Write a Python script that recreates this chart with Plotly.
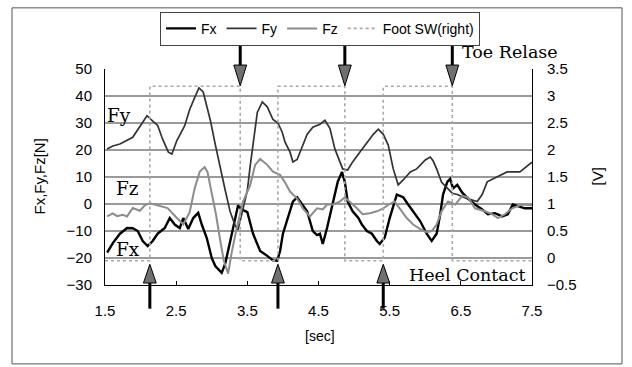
import plotly.graph_objects as go

# ---- data ----
fx_t = [1.53, 1.61, 1.71, 1.81, 1.89, 1.96, 2.03, 2.10, 2.17, 2.24, 2.34, 2.41, 2.48, 2.55, 2.60, 2.67,
        2.74, 2.81, 2.86, 2.93, 3.00, 3.05, 3.14, 3.19, 3.26, 3.33, 3.37, 3.42, 3.50, 3.58, 3.68, 3.78,
        3.86, 3.92, 3.96, 4.00, 4.07, 4.14, 4.20, 4.27, 4.34, 4.42, 4.48, 4.52, 4.56, 4.62, 4.70, 4.77,
        4.83, 4.87, 4.91, 4.98, 5.06, 5.11, 5.18, 5.25, 5.32, 5.36, 5.43, 5.50, 5.60, 5.69, 5.76, 5.83,
        5.93, 6.02, 6.09, 6.16, 6.21, 6.25, 6.31, 6.35, 6.39, 6.45, 6.52, 6.60, 6.70, 6.80, 6.88, 6.98,
        7.08, 7.16, 7.23, 7.30, 7.40, 7.50]
fx = [-18, -14.5, -11, -8.9, -9, -10, -13.7, -15.6, -13.7, -11, -8.9, -5.2, -7.6, -8.9, -5.2, -9.3,
      -5.2, -3.3, -7.6, -12.6, -20, -23, -25.5, -22, -13.7, -5.2, -0.5, -2, -3, -11, -17.4, -19.2,
      -20.9, -21, -17.4, -11, -5.2, 0.9, 2.5, 0, -2.7, -10, -11.5, -11, -14.8, -8.9, 0.9, 8.2,
      11.9, 8.2, 0.9, -2.7, -5.2, -7.6, -10, -11, -13.7, -14.8, -12.5, -5.2, 3.5, 2.5, -0.2, -2.7,
      -6.4, -11, -13.7, -11, -3.8, 3.5, 8.2, 9.3, 5.8, 7.1, 4.2, 2, -0.2, -2, -3.8, -3.4,
      -4.6, -3.8, -0.2, -0.8, -1.6, -1.6]

fy_t = [1.53, 1.61, 1.71, 1.81, 1.89, 1.96, 2.03, 2.09, 2.16, 2.24, 2.31, 2.39, 2.44, 2.51, 2.62, 2.69,
        2.76, 2.82, 2.88, 2.93, 2.98, 3.05, 3.12, 3.19, 3.26, 3.33, 3.37, 3.42, 3.50, 3.54, 3.58, 3.64,
        3.71, 3.78, 3.86, 3.93, 3.99, 4.03, 4.10, 4.14, 4.20, 4.27, 4.34, 4.42, 4.52, 4.59, 4.66, 4.73,
        4.80, 4.84, 4.91, 4.98, 5.08, 5.18, 5.27, 5.34, 5.41, 5.48, 5.55, 5.62, 5.69, 5.79, 5.88, 6.00,
        6.07, 6.11, 6.16, 6.23, 6.31, 6.38, 6.45, 6.59, 6.73, 6.80, 6.87, 6.95, 7.05, 7.15, 7.33, 7.50]
fy = [20.4, 21.5, 22.2, 23.5, 24.7, 27.5, 30.2, 32.7, 31, 29.1, 24, 19.2, 18.5, 23.5, 29, 35,
      39.4, 43, 41.5, 36.3, 31, 22, 13, 5, -3, -8, -9.5, -4, 5, 14, 22, 33.9,
      37.8, 36, 31.3, 30, 26.6, 22.9, 19.2, 15.6, 16.5, 21.5, 25.8, 28.4, 29.5, 31, 28, 20.4,
      15.6, 13, 12.6, 15.6, 19.2, 22.9, 25.8, 27.7, 25.8, 21.8, 13, 7.1, 8.9, 11.9, 13, 16.3,
      17.4, 16, 13, 8, 5.8, 4, 3.5, 2, 0.9, 3.5, 8.2, 9.3, 10.5, 11.9, 11.9, 15.5]

fz_t = [1.53, 1.61, 1.67, 1.75, 1.81, 1.89, 1.99, 2.06, 2.13, 2.24, 2.38, 2.51, 2.60, 2.69, 2.76, 2.83,
        2.90, 2.94, 3.00, 3.06, 3.12, 3.17, 3.23, 3.28, 3.35, 3.44, 3.54, 3.61, 3.68, 3.78, 3.86, 3.96,
        4.03, 4.10, 4.20, 4.28, 4.38, 4.48, 4.56, 4.62, 4.70, 4.80, 4.87, 4.94, 5.04, 5.12, 5.22, 5.32,
        5.41, 5.50, 5.57, 5.64, 5.74, 5.83, 5.93, 6.02, 6.09, 6.16, 6.23, 6.32, 6.42, 6.52, 6.60, 6.70,
        6.84, 6.94, 7.02, 7.12, 7.22, 7.36, 7.50]
fz = [-4.6, -3.5, -4.5, -4, -4.6, -1.5, -2.5, -0.5, 0.3, -0.5, -1.5, -5.2, -7.5, -3, 5.8, 11.9,
      13.7, 11.9, 3.7, -4, -13.7, -21, -25.8, -18, -9, 0.9, 7, 14.5, 16.7, 14.5, 12, 10.8,
      8, 4.6, 2, -1.6, -4.6, -1.6, -2, -0.2, -0.2, 0.9, 2.5, 0.9, -1.6, -3.8, -3.4, -2.7,
      -1.6, 0, 0.9, -1.6, -5.2, -7.6, -9.3, -10.4, -10, -7.6, -2.7, 0.9, -0.2, 3, 2.5, -1.6,
      -2.7, -3.8, -5.2, -3.8, -1.6, -0.2, -0.5]

sw_t = [1.5, 2.13, 3.40, 3.93, 4.87, 5.41, 6.38, 7.5]
sw_v = [-0.05, 3.18, -0.05, 3.18, -0.05, 3.18, -0.05, -0.05]

toe_release_t = [3.40, 4.87, 6.38]
heel_contact_t = [2.13, 3.93, 5.41]

# ---- figure ----
fig = go.Figure()
fig.add_trace(go.Scatter(x=fx_t, y=fx, name="Fx", mode="lines",
                         line=dict(color="#000000", width=2.4)))
fig.add_trace(go.Scatter(x=fy_t, y=fy, name="Fy", mode="lines",
                         line=dict(color="#333333", width=1.7)))
fig.add_trace(go.Scatter(x=fz_t, y=fz, name="Fz", mode="lines",
                         line=dict(color="#8c8c8c", width=2)))
fig.add_trace(go.Scatter(x=sw_t, y=sw_v, name="Foot SW(right)", mode="lines", yaxis="y2",
                         line=dict(color="#a8a8a8", width=1.6, dash="dot", shape="hv")))

# geometry helpers (paper coords)
L, R, T, B = 105, 532, 66, 285
W, H = 632, 367
def px_x(p):
    return (p - L) / (R - L)
def px_y(p):
    return (B - p) / (B - T)

shapes = []
half = 0.09
for t in toe_release_t:
    shapes.append(dict(type="line", xref="x", yref="paper", x0=t, x1=t,
                       y0=px_y(32), y1=px_y(63), line=dict(color="black", width=3)))
    shapes.append(dict(type="path", xref="x", yref="paper",
                       path=f"M {t-half},{px_y(62)} L {t+half},{px_y(62)} L {t},{px_y(83)} Z",
                       fillcolor="#707070", line=dict(color="black", width=1)))
for t in heel_contact_t:
    shapes.append(dict(type="line", xref="x", yref="paper", x0=t, x1=t,
                       y0=px_y(309), y1=px_y(282), line=dict(color="black", width=3)))
    shapes.append(dict(type="path", xref="x", yref="paper",
                       path=f"M {t-half},{px_y(283)} L {t+half},{px_y(283)} L {t},{px_y(264)} Z",
                       fillcolor="#707070", line=dict(color="black", width=1)))
# outer frame
shapes.append(dict(type="rect", xref="paper", yref="paper",
                   x0=px_x(12), x1=px_x(622), y0=px_y(365), y1=px_y(4),
                   line=dict(color="#555555", width=1)))

serif = "DejaVu Serif, Liberation Serif, serif"
sans = "Liberation Sans, Arial, sans-serif"
annotations = [
    dict(text="Toe Relase", xref="paper", yref="paper", x=px_x(460), y=px_y(49),
         xanchor="left", yanchor="middle", showarrow=False, font=dict(family=serif, size=17.5, color="black")),
    dict(text="Heel Contact", xref="paper", yref="paper", x=px_x(528), y=px_y(275),
         xanchor="right", yanchor="middle", showarrow=False, font=dict(family=serif, size=17.5, color="black")),
    dict(text="Fy", xref="paper", yref="paper", x=px_x(119), y=px_y(113),
         xanchor="center", yanchor="middle", showarrow=False, font=dict(family=serif, size=18.5, color="black")),
    dict(text="Fz", xref="paper", yref="paper", x=px_x(127), y=px_y(187),
         xanchor="center", yanchor="middle", showarrow=False, font=dict(family=serif, size=18.5, color="black")),
    dict(text="Fx", xref="paper", yref="paper", x=px_x(128), y=px_y(249),
         xanchor="center", yanchor="middle", showarrow=False, font=dict(family=serif, size=18.5, color="black")),
    dict(text="Fx,Fy,Fz[N]", xref="paper", yref="paper", x=px_x(40), y=px_y(175), textangle=-90,
         xanchor="center", yanchor="middle", showarrow=False, font=dict(family=sans, size=15, color="black")),
    dict(text="[V]", xref="paper", yref="paper", x=px_x(598), y=px_y(175), textangle=-90,
         xanchor="center", yanchor="middle", showarrow=False, font=dict(family=sans, size=15, color="black")),
    dict(text="[sec]", xref="paper", yref="paper", x=px_x(320), y=px_y(337),
         xanchor="center", yanchor="middle", showarrow=False, font=dict(family=sans, size=14, color="black")),
]

fig.update_layout(
    width=W, height=H,
    margin=dict(l=L, r=W - R, t=T, b=H - B),
    paper_bgcolor="white", plot_bgcolor="white",
    font=dict(family=sans, size=15, color="black"),
    showlegend=True,
    legend=dict(orientation="h", x=px_x(320), xanchor="center", y=px_y(8), yanchor="top",
                bordercolor="#444444", borderwidth=1, bgcolor="white",
                font=dict(family=sans, size=14, color="black")),
    xaxis=dict(range=[1.5, 7.5], tick0=1.5, dtick=1, tickformat=".1f", showgrid=False,
               showline=True, linecolor="black", linewidth=1, ticks="inside", ticklen=4,
               tickcolor="black", zeroline=False, ticklabelstandoff=12),
    yaxis=dict(range=[-30, 50], dtick=10, showgrid=True, gridcolor="#9a9a9a", gridwidth=1.5,
               showline=True, linecolor="black", linewidth=1, zeroline=False, ticks="",
               ticklabelstandoff=9),
    yaxis2=dict(range=[-0.5, 3.5], dtick=0.5, overlaying="y", side="right", showgrid=False,
                showline=True, linecolor="black", linewidth=1, zeroline=False, ticks="",
                ticklabelstandoff=11),
    shapes=shapes,
    annotations=annotations,
)

fig.write_html("out.html")
